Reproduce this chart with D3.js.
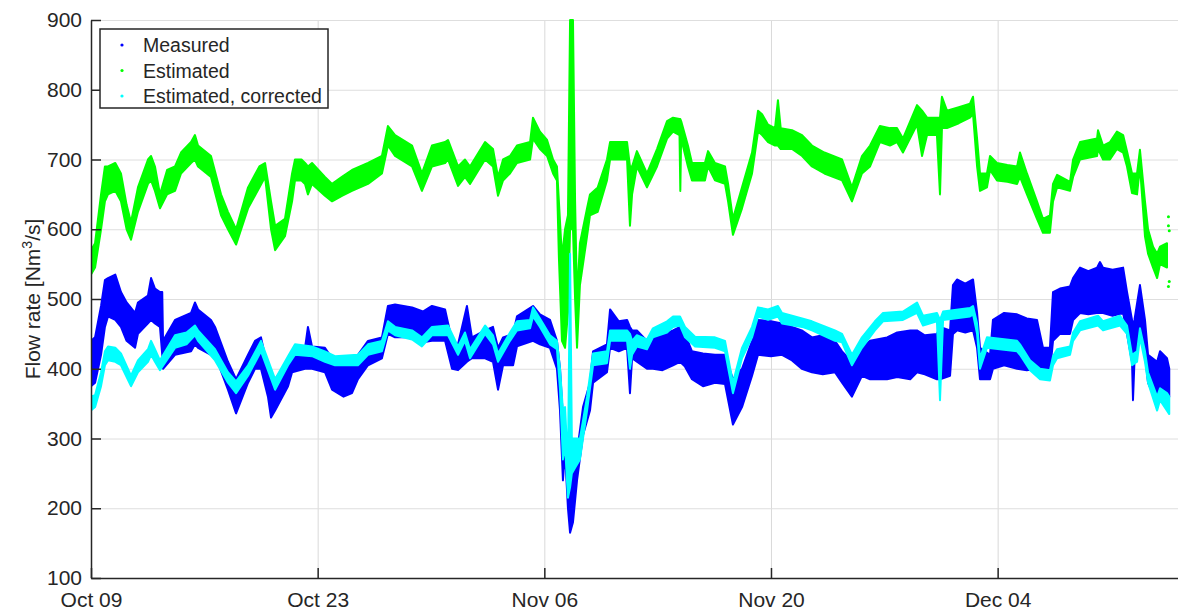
<!DOCTYPE html>
<html>
<head>
<meta charset="utf-8">
<script src="https://cdn.jsdelivr.net/npm/d3@7"></script>
<style>
  html, body { margin: 0; padding: 0; background: #fff; }
  svg { display: block; }
  text { font-family: "Liberation Sans", Arial, Helvetica, sans-serif; fill: #262626; }
</style>
</head>
<body>
<svg id="chart" width="1178" height="612"></svg>
<script>
// Flow-rate records, [days since Oct 09 00:00, lower edge, upper edge] in Nm3/s.
// Each series is a dense scatter of samples; the two edges trace the band they fill.
const measured = [
  [0.0, 375, 440], [0.25, 380, 445], [0.62, 420, 490], [0.86, 460, 527], [1.05, 475, 530],
  [1.5, 470, 535], [1.85, 460, 510], [2.2, 440, 495], [2.72, 430, 480], [2.9, 450, 495],
  [3.52, 465, 505], [3.71, 470, 530], [3.95, 465, 515], [4.26, 460, 510], [4.4, 420, 510],
  [4.45, 400, 440], [5.19, 420, 470], [6.18, 425, 480], [6.42, 435, 495], [6.61, 430, 485],
  [7.41, 420, 470], [7.66, 420, 460], [8.46, 370, 410], [8.96, 336, 385], [9.7, 380, 420],
  [10.13, 400, 440], [10.5, 400, 445], [10.93, 360, 400], [11.12, 330, 395], [11.37, 340, 385],
  [12.17, 375, 410], [12.42, 395, 425], [13.22, 400, 430], [13.4, 400, 460], [13.65, 400, 432],
  [14.45, 395, 430], [14.89, 370, 415], [15.6, 360, 405], [16.12, 365, 410], [16.49, 385, 420],
  [17.11, 405, 440], [17.97, 415, 445], [18.34, 450, 490], [18.78, 445, 492], [19.83, 445, 488],
  [20.5, 438, 482], [21.06, 440, 490], [21.87, 440, 485], [22.3, 400, 440], [22.67, 398, 435],
  [23.22, 410, 490], [23.53, 415, 445], [24.34, 415, 455], [24.83, 410, 460], [25.14, 370, 430],
  [25.45, 405, 445], [26.07, 405, 450], [26.31, 432, 475], [27.3, 440, 490], [27.73, 435, 478],
  [28.35, 430, 470], [28.78, 400, 440], [28.97, 340, 400], [29.15, 240, 330], [29.28, 280, 320],
  [29.46, 200, 250], [29.59, 165, 230], [29.77, 180, 260], [30.02, 240, 280], [30.39, 305, 345],
  [30.82, 340, 380], [31.01, 380, 425], [31.87, 395, 435], [32.06, 430, 485], [32.6, 425, 468],
  [33.11, 430, 470], [33.29, 365, 460], [33.42, 415, 455], [33.72, 410, 455], [34.34, 400, 440],
  [34.71, 400, 450], [35.3, 398, 448], [35.95, 405, 455], [36.38, 410, 460], [36.69, 403, 450],
  [37.12, 385, 425], [37.8, 375, 422], [38.54, 380, 420], [39.16, 378, 420], [39.65, 320, 385],
  [40.21, 345, 400], [40.83, 390, 440], [41.2, 420, 470], [42.0, 418, 468], [42.68, 420, 465],
  [43.3, 412, 460], [43.9, 400, 455], [44.53, 395, 445], [45.2, 392, 448], [45.95, 395, 440],
  [46.39, 380, 425], [47.0, 360, 410], [47.62, 390, 430], [48.12, 385, 440], [49.17, 385, 445],
  [49.8, 388, 452], [50.6, 385, 455], [51.02, 395, 455], [51.5, 392, 448], [52.25, 385, 450],
  [52.44, 385, 460], [53.06, 390, 455], [53.24, 450, 520], [53.49, 455, 528], [54.0, 452, 522],
  [54.48, 455, 528], [54.73, 430, 480], [54.91, 385, 430], [55.53, 385, 420], [55.71, 400, 470],
  [56.4, 405, 480], [57.2, 400, 478], [57.8, 398, 472], [58.43, 400, 470], [58.8, 395, 430],
  [59.23, 395, 430], [59.42, 440, 510], [59.85, 450, 515], [60.47, 450, 518], [60.66, 470, 530],
  [61.09, 480, 545], [61.6, 478, 540], [62.14, 480, 545], [62.32, 480, 553], [62.51, 480, 545],
  [63.1, 476, 542], [63.75, 480, 545], [63.99, 450, 510], [64.3, 410, 470], [64.36, 355, 460],
  [64.45, 410, 470], [64.79, 455, 520], [65.1, 420, 470], [65.29, 380, 420], [65.85, 350, 410],
  [66.03, 360, 425], [66.46, 350, 415], [66.6, 360, 400]
];

const estimated = [
  [0.0, 535, 570], [0.25, 545, 580], [0.62, 600, 650], [0.86, 640, 690], [1.05, 650, 690],
  [1.5, 655, 695], [1.85, 640, 680], [2.2, 600, 635], [2.47, 585, 610], [2.9, 625, 660],
  [3.52, 665, 700], [3.71, 670, 705], [3.95, 655, 690], [4.26, 630, 650], [4.7, 650, 685],
  [5.19, 655, 690], [5.56, 680, 710], [6.18, 695, 725], [6.42, 700, 735], [6.61, 690, 720],
  [7.41, 675, 705], [8.03, 620, 650], [8.46, 600, 625], [8.96, 578, 600], [9.7, 630, 660],
  [10.4, 660, 690], [10.75, 675, 695], [11.12, 600, 640], [11.37, 570, 605], [11.98, 590, 615],
  [12.42, 640, 680], [12.6, 670, 700], [13.0, 670, 700], [13.22, 665, 695], [13.4, 650, 690],
  [13.65, 665, 695], [14.45, 648, 675], [14.89, 640, 665], [15.5, 648, 675], [16.12, 655, 685],
  [17.11, 665, 695], [17.97, 680, 705], [18.34, 720, 748], [18.78, 705, 735], [19.83, 690, 720],
  [20.44, 655, 680], [21.06, 690, 720], [21.87, 695, 725], [22.05, 700, 728], [22.67, 662, 690],
  [23.1, 675, 700], [23.41, 665, 690], [24.34, 700, 725], [24.83, 690, 715], [25.14, 648, 675],
  [25.45, 670, 700], [25.88, 680, 705], [26.31, 695, 720], [27.12, 700, 725], [27.3, 730, 760],
  [27.73, 715, 740], [28.17, 705, 728], [28.54, 680, 700], [28.78, 670, 690], [28.9, 560, 640],
  [29.09, 440, 560], [29.28, 430, 600], [29.46, 480, 620], [29.59, 600, 900], [29.77, 600, 900],
  [29.9, 500, 640], [30.02, 430, 500], [30.2, 520, 580], [30.64, 590, 630], [30.82, 620, 650],
  [31.3, 625, 660], [31.87, 670, 700], [32.06, 700, 725], [33.11, 700, 725], [33.29, 605, 690],
  [33.42, 650, 690], [33.72, 690, 712], [34.34, 660, 680], [34.96, 690, 715], [35.58, 730, 755],
  [35.95, 740, 760], [36.35, 735, 758], [36.4, 655, 758], [36.45, 730, 755], [36.87, 690, 720],
  [37.12, 670, 695], [37.92, 670, 695], [38.11, 690, 712], [38.54, 670, 695], [39.16, 665, 690],
  [39.35, 640, 665], [39.65, 592, 615], [40.21, 630, 660], [40.83, 680, 710], [41.2, 740, 770],
  [41.45, 735, 765], [41.82, 725, 750], [42.25, 720, 745], [42.43, 720, 785], [42.6, 715, 745],
  [43.3, 715, 742], [43.92, 705, 735], [44.53, 690, 720], [45.3, 680, 710], [46.39, 670, 700],
  [47.0, 640, 660], [47.62, 680, 705], [48.12, 690, 720], [48.73, 725, 748], [49.35, 720, 745],
  [49.78, 725, 745], [50.15, 710, 730], [51.02, 750, 778], [51.33, 705, 770], [51.64, 735, 760],
  [52.25, 735, 760], [52.44, 650, 760], [52.56, 745, 790], [52.87, 745, 770], [53.6, 752, 775],
  [54.29, 760, 780], [54.48, 765, 790], [54.73, 690, 730], [54.91, 655, 680], [55.34, 660, 680],
  [55.53, 685, 705], [55.96, 670, 695], [56.6, 668, 692], [57.2, 665, 690], [57.38, 675, 710],
  [57.81, 650, 680], [58.43, 615, 640], [58.8, 595, 615], [59.23, 595, 620], [59.42, 640, 665],
  [59.67, 660, 678], [60.47, 655, 668], [60.66, 675, 700], [61.09, 700, 725], [62.14, 705, 730],
  [62.2, 715, 742], [62.51, 700, 720], [62.94, 700, 725], [63.37, 715, 740], [63.75, 710, 735],
  [63.99, 690, 712], [64.3, 652, 680], [64.61, 650, 680], [64.79, 690, 714], [65.1, 590, 640],
  [65.29, 565, 600], [65.6, 545, 575], [65.85, 530, 565], [66.03, 550, 575], [66.46, 545, 580]
];

// isolated samples of the estimate that sit away from its band
const estimatedStray = [
  [66.55, 618], [66.55, 605], [66.6, 598], [66.6, 525], [66.55, 518]
];

const corrected = [
  [0.0, 340, 360], [0.25, 345, 362], [0.62, 375, 395], [0.86, 405, 425], [1.05, 412, 432],
  [1.5, 410, 430], [1.85, 405, 422], [2.47, 375, 390], [2.9, 395, 412], [3.52, 410, 428],
  [3.71, 420, 440], [3.95, 410, 428], [4.26, 398, 412], [5.19, 430, 448], [5.9, 435, 452],
  [6.42, 448, 462], [6.61, 440, 455], [7.66, 412, 428], [8.46, 380, 395], [8.96, 365, 382],
  [9.7, 390, 405], [10.5, 425, 440], [11.37, 370, 385], [12.17, 405, 418], [12.6, 420, 435],
  [13.65, 418, 432], [14.45, 410, 425], [15.07, 405, 418], [16.49, 405, 420], [17.11, 420, 435],
  [17.97, 425, 440], [18.34, 455, 468], [18.78, 448, 460], [19.83, 442, 455], [20.44, 432, 445],
  [21.06, 448, 460], [22.05, 448, 462], [22.67, 420, 432], [23.1, 440, 452], [23.41, 415, 428],
  [24.34, 450, 462], [24.83, 435, 448], [25.14, 410, 422], [25.88, 440, 452], [26.31, 455, 468],
  [27.12, 458, 470], [27.3, 475, 488], [27.73, 460, 472], [28.35, 435, 448], [28.78, 428, 440],
  [28.97, 370, 400], [29.15, 270, 340], [29.28, 290, 345], [29.46, 215, 260], [29.59, 230, 565],
  [29.7, 250, 300], [29.9, 258, 300], [30.2, 270, 300], [30.64, 340, 360], [31.01, 405, 422],
  [31.87, 408, 425], [32.06, 440, 455], [33.11, 440, 455], [33.29, 400, 450], [33.42, 420, 440],
  [33.72, 432, 448], [34.34, 428, 442], [34.71, 445, 458], [35.58, 452, 468], [35.95, 460, 475],
  [36.38, 462, 475], [36.69, 445, 460], [37.31, 432, 446], [38.54, 430, 445], [39.16, 425, 440],
  [39.65, 365, 380], [40.21, 415, 430], [40.83, 445, 460], [41.2, 475, 488], [41.82, 470, 485],
  [42.43, 475, 490], [42.68, 465, 480], [43.92, 460, 472], [44.53, 455, 468], [45.95, 440, 455],
  [46.39, 438, 450], [47.0, 405, 420], [47.62, 430, 445], [48.42, 455, 468], [48.92, 468, 480],
  [50.15, 470, 482], [51.02, 480, 495], [51.39, 462, 476], [52.25, 468, 480], [52.44, 355, 470],
  [52.63, 470, 482], [54.29, 475, 487], [54.48, 478, 490], [54.73, 450, 465], [54.91, 400, 415],
  [55.34, 430, 445], [57.2, 425, 440], [57.38, 420, 435], [58.0, 398, 412], [58.62, 385, 400],
  [59.23, 383, 398], [59.42, 405, 418], [59.67, 415, 428], [60.47, 420, 432], [60.66, 440, 452],
  [61.09, 455, 468], [62.2, 462, 476], [62.51, 455, 468], [63.56, 462, 476], [63.99, 450, 462],
  [64.3, 405, 420], [64.61, 410, 425], [64.79, 445, 458], [65.1, 410, 425], [65.29, 380, 395],
  [65.85, 340, 360], [66.03, 355, 372], [66.46, 340, 365], [66.6, 335, 360]
];

const seriesNames = ["Measured", "Estimated", "Estimated, corrected"];
const seriesColors = ["#0000ff", "#00ff00", "#00ffff"];
const yTicks = [100, 200, 300, 400, 500, 600, 700, 800, 900];
const xTickDays = [0, 14, 28, 42, 56];
const yLabel = "Flow rate [Nm";
const yLabelSup = "3";
const yLabelTail = "/s]";

const W = 1178, H = 612;
const M = { left: 91, top: 20, right: 0, bottom: 34 };
const startDate = Date.UTC(2015, 9, 9);
const dayMs = 864e5;
const toDate = d => new Date(startDate + d * dayMs);
const endDay = 67.14;

const svg = d3.select("#chart");
const x = d3.scaleUtc()
  .domain([toDate(0), toDate(endDay)])
  .range([M.left, W - M.right]);
const y = d3.scaleLinear()
  .domain([100, 900])
  .range([H - M.bottom, M.top]);

// grid
const grid = svg.append("g");
grid.append("g")
  .attr("transform", `translate(0,${H - M.bottom})`)
  .call(d3.axisBottom(x).tickValues(xTickDays.map(toDate)).tickSize(-(H - M.bottom - M.top)).tickFormat(""))
  .call(g => g.select(".domain").remove())
  .call(g => g.selectAll("line").attr("stroke", "#d9d9d9").attr("stroke-width", 1));
grid.append("g")
  .attr("transform", `translate(${M.left},0)`)
  .call(d3.axisLeft(y).tickValues(yTicks).tickSize(-(W - M.left - M.right)).tickFormat(""))
  .call(g => g.select(".domain").remove())
  .call(g => g.selectAll("line").attr("stroke", "#dedede").attr("stroke-width", 1));

// data bands
const plot = svg.append("g");
const clipId = "plotclip";
svg.append("clipPath").attr("id", clipId)
  .append("rect").attr("x", M.left).attr("y", M.top - 1)
  .attr("width", W - M.left).attr("height", H - M.bottom - M.top + 1);
plot.attr("clip-path", `url(#${clipId})`);

const band = d3.area()
  .x(d => x(toDate(d[0])))
  .y0(d => y(d[1]))
  .y1(d => y(d[2]))
  .curve(d3.curveLinear);

[measured, estimated, corrected].forEach((data, i) => {
  plot.append("path")
    .datum(data)
    .attr("d", band)
    .attr("fill", seriesColors[i])
    .attr("stroke", seriesColors[i])
    .attr("stroke-width", 2)
    .attr("stroke-linejoin", "round");
  if (i === 1) {
    plot.selectAll(null)
      .data(estimatedStray)
      .join("circle")
      .attr("cx", d => x(toDate(d[0])))
      .attr("cy", d => y(d[1]))
      .attr("r", 1.5)
      .attr("fill", seriesColors[1]);
  }
});

// axes (ticks point inward)
const axisColor = "#262626";
svg.append("g")
  .attr("transform", `translate(0,${H - M.bottom})`)
  .call(d3.axisBottom(x).tickValues(xTickDays.map(toDate))
    .tickFormat(d3.utcFormat("%b %d")).tickSize(-10).tickSizeOuter(0).tickPadding(14))
  .call(g => g.select(".domain").attr("stroke", axisColor).attr("stroke-width", 1.5))
  .call(g => g.selectAll(".tick line").attr("stroke", axisColor).attr("stroke-width", 1.5))
  .call(g => g.selectAll("text").attr("font-size", 21).attr("fill", axisColor)
    .style("font-family", "'Liberation Sans', Arial, sans-serif"));

svg.append("g")
  .attr("transform", `translate(${M.left},0)`)
  .call(d3.axisLeft(y).tickValues(yTicks).tickSize(-10).tickSizeOuter(0).tickPadding(9))
  .call(g => g.select(".domain").attr("stroke", axisColor).attr("stroke-width", 1.5))
  .call(g => g.selectAll(".tick line").attr("stroke", axisColor).attr("stroke-width", 1.5))
  .call(g => g.selectAll("text").attr("font-size", 21).attr("fill", axisColor)
    .style("font-family", "'Liberation Sans', Arial, sans-serif"));

// y-axis title
const yt = svg.append("text")
  .attr("transform", `translate(40,${(M.top + H - M.bottom) / 2}) rotate(-90)`)
  .attr("text-anchor", "middle")
  .attr("font-size", 21);
yt.append("tspan").text(yLabel);
yt.append("tspan").attr("font-size", 14).attr("dy", -8).text(yLabelSup);
yt.append("tspan").attr("dy", 8).text(yLabelTail);

// legend
const lg = svg.append("g").attr("transform", "translate(100,29)");
lg.append("rect")
  .attr("width", 228).attr("height", 79)
  .attr("fill", "#fff").attr("stroke", axisColor).attr("stroke-width", 1.5);
seriesNames.forEach((name, i) => {
  const cy = 16 + i * 25.5;
  lg.append("circle").attr("cx", 22).attr("cy", cy).attr("r", 1.6).attr("fill", seriesColors[i]);
  lg.append("text").attr("x", 43).attr("y", cy + 7)
    .attr("font-size", 19.5).text(name);
});
</script>
</body>
</html>
